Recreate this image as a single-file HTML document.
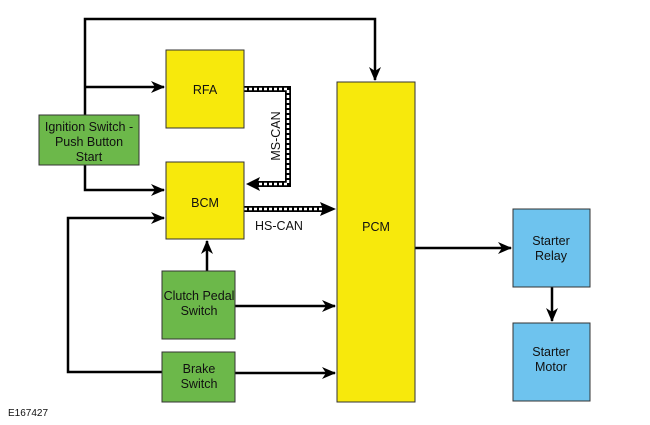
<!DOCTYPE html>
<html><head><style>body{margin:0;background:#fff}svg{display:block}text{font-family:"Liberation Sans",sans-serif;font-size:12.5px;fill:#111}</style></head><body>
<svg width="650" height="425" viewBox="0 0 650 425">
<defs><marker id="b" markerWidth="14" markerHeight="12" refX="13" refY="6" orient="auto" markerUnits="userSpaceOnUse"><path d="M0,0 L14,6 L0,12 L4,6 Z" fill="#000"/></marker></defs>
<g stroke="#000" stroke-width="2.5" fill="none">
<polyline points="85,115 85,19 375,19 375,80" marker-end="url(#b)"/>
<line x1="85" y1="87" x2="164" y2="87" marker-end="url(#b)"/>
<polyline points="85,165 85,190 164,190" marker-end="url(#b)"/>
<polyline points="162,372 68,372 68,218 164,218" marker-end="url(#b)"/>
<line x1="207" y1="271" x2="207" y2="241" marker-end="url(#b)"/>
<line x1="235" y1="306" x2="335" y2="306" marker-end="url(#b)"/>
<line x1="235" y1="373" x2="335" y2="373" marker-end="url(#b)"/>
<line x1="415" y1="248" x2="511" y2="248" marker-end="url(#b)"/>
<line x1="552" y1="287" x2="552" y2="321" marker-end="url(#b)"/>
</g>
<polyline points="244,89 288,89 288,184 252,184" stroke="#000" stroke-width="6" fill="none"/>
<polyline points="244,89 288,89 288,184 252,184" stroke="#fff" stroke-width="2.5" stroke-dasharray="3,2" fill="none"/>
<path d="M246,184 L260,177 L257,184 L260,191 Z" fill="#000"/>
<line x1="244" y1="209" x2="325" y2="209" stroke="#000" stroke-width="6"/>
<line x1="244" y1="209" x2="325" y2="209" stroke="#fff" stroke-width="2.5" stroke-dasharray="3,2"/>
<path d="M336,209 L320,202 L323,209 L320,216 Z" fill="#000"/>
<g stroke="#333" stroke-width="1">
<rect x="166" y="50" width="78" height="78" fill="#f7e90c"/>
<rect x="166" y="162" width="78" height="77" fill="#f7e90c"/>
<rect x="337" y="82" width="78" height="320" fill="#f7e90c"/>
<rect x="39" y="115" width="100" height="50" fill="#6cb84a"/>
<rect x="162" y="271" width="73" height="68" fill="#6cb84a"/>
<rect x="162" y="352" width="73" height="50" fill="#6cb84a"/>
<rect x="513" y="209" width="77" height="78" fill="#6ec3ee"/>
<rect x="513" y="323" width="77" height="78" fill="#6ec3ee"/>
</g>
<g text-anchor="middle">
<text x="205" y="94">RFA</text>
<text x="205" y="207">BCM</text>
<text x="376" y="231">PCM</text>
<text x="89" y="131">Ignition Switch -</text>
<text x="89" y="146">Push Button</text>
<text x="89" y="161">Start</text>
<text x="199" y="300">Clutch Pedal</text>
<text x="199" y="315">Switch</text>
<text x="199" y="373">Brake</text>
<text x="199" y="388">Switch</text>
<text x="551" y="245">Starter</text>
<text x="551" y="260">Relay</text>
<text x="551" y="356">Starter</text>
<text x="551" y="371">Motor</text>
<text x="279" y="230">HS-CAN</text>
<text transform="translate(280,136) rotate(-90)">MS-CAN</text>
</g>
<text x="8" y="416" style="font-size:10px">E167427</text>
</svg></body></html>
